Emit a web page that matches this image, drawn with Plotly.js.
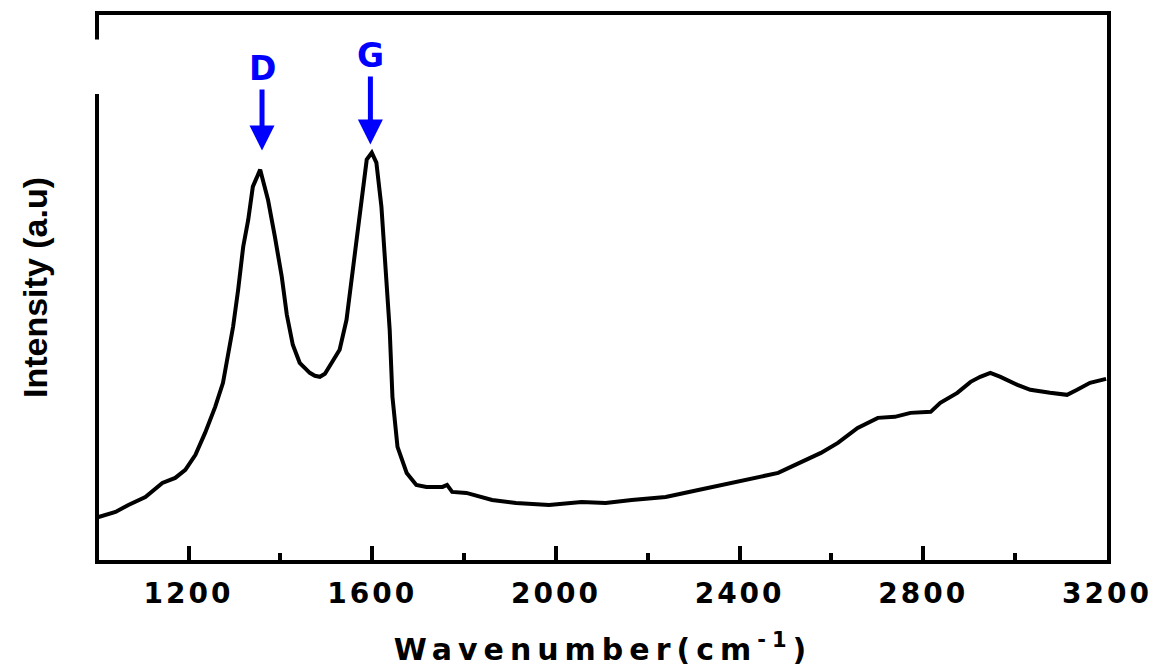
<!DOCTYPE html>
<html>
<head>
<meta charset="utf-8">
<script src="https://cdn.plot.ly/plotly-3.0.1.min.js"></script>
<style>
html,body{margin:0;padding:0;background:#fff;}
#chart{width:1159px;height:667px;}
.xtick text{letter-spacing:3px;}
.g-xtitle text{letter-spacing:6px;}
</style>
</head>
<body>
<div id="chart"></div>
<script>
// Raman spectrum: wavenumber (cm^-1) vs intensity (a.u.)
const wavenumber = [1004,1041,1069,1106,1143,1171,1193,1215,1236,1258,1275,1286,1297,1308,1319,1330,1340,1356,1373,1388,1403,1414,1427,1442,1464,1475,1486,1497,1507,1529,1544,1555,1566,1577,1588,1599,1609,1620,1629,1638,1644,1655,1675,1696,1718,1753,1763,1774,1805,1833,1861,1913,1985,2056,2108,2165,2239,2310,2382,2456,2484,2521,2577,2614,2657,2701,2738,2772,2816,2837,2874,2903,2924,2946,2968,3005,3033,3076,3113,3135,3163,3198];
const intensity  = [46,51,58,66,80,85,93,108,130,156,180,206,236,273,316,343,376,393,363,326,286,248,218,200,190,187,186,189,196,213,243,283,316,360,403,410,400,356,300,233,166,116,90,78,76,76,78,71,70,66,63,60,58,61,60,63,66,73,80,88,90,98,110,120,135,145,146,150,151,160,170,181,186,190,186,178,173,170,168,173,180,184];

// Peak labels
const peakLabels = ["D", "G"];
const peakPositions = [1360, 1596];
const arrowTipIntensity = [412, 418];
const labelOffsetPx = [-82, -89];

const trace = {
  x: wavenumber,
  y: intensity,
  type: 'scatter',
  mode: 'lines',
  line: {color: '#000000', width: 4},
  hoverinfo: 'x+y',
  showlegend: false
};

const annotations = peakLabels.map((lab, i) => ({
  x: peakPositions[i], y: arrowTipIntensity[i], xref: 'x', yref: 'y',
  text: '<b>' + lab + '</b>', showarrow: true,
  arrowhead: 2, arrowsize: 1, arrowwidth: 5, arrowcolor: '#0000ff',
  ax: 0, ay: labelOffsetPx[i], standoff: 0,
  font: {family: 'DejaVu Sans', size: 33, color: '#0000ff'}
}));

const layout = {
  width: 1159, height: 667,
  margin: {l: 99, r: 52, t: 15, b: 107, pad: 0},
  paper_bgcolor: '#ffffff', plot_bgcolor: '#ffffff',
  showlegend: false,
  xaxis: {
    range: [1005, 3200],
    tickvals: [1200, 1600, 2000, 2400, 2800, 3200],
    ticktext: ['1200', '1600', '2000', '2400', '2800', '3200'],
    ticks: 'inside', ticklen: 14, tickwidth: 4, tickcolor: '#000',
    minor: {ticks: 'inside', ticklen: 7, tickwidth: 4, tickcolor: '#000', dtick: 400, tick0: 1400, showgrid: false},
    showline: true, linewidth: 4, linecolor: '#000', mirror: true,
    showgrid: false, zeroline: false,
    ticklabelstandoff: 5,
    tickfont: {family: 'DejaVu Sans', size: 28, color: '#000', weight: 'bold'},
    title: {text: 'Wavenumber(cm<sup>-1</sup>)', font: {family: 'DejaVu Sans', size: 30, color: '#000', weight: 'bold'}, standoff: 40}
  },
  yaxis: {
    range: [3, 547.5],
    showticklabels: false, ticks: '',
    showline: true, linewidth: 4, linecolor: '#000', mirror: true,
    showgrid: false, zeroline: false,
    title: {text: 'Intensity (a.u)', font: {family: 'Liberation Sans, Arial', size: 34, color: '#000', weight: 'bold'}, standoff: 38}
  },
  shapes: [{
    type: 'rect', xref: 'paper', yref: 'paper', layer: 'above',
    x0: -0.008, x1: 0.003, y0: 0.855, y1: 0.955,
    fillcolor: '#ffffff', line: {width: 0}
  }],
  annotations: annotations
};

Plotly.newPlot('chart', [trace], layout, {displayModeBar: false, staticPlot: true});
</script>
</body>
</html>
